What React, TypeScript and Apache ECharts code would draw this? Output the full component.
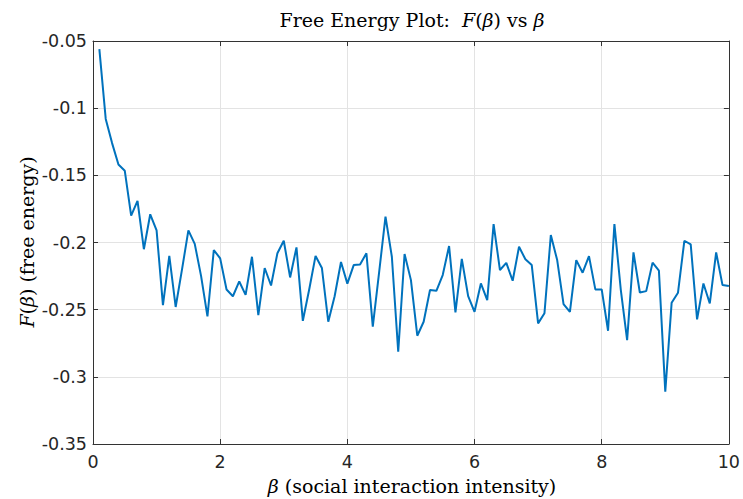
import React, { useEffect, useRef } from "react";
import * as echarts from "echarts";

// beta = 0.1, 0.2, ..., 10.0
const betaValues: number[] = [
  0.1, 0.2, 0.3, 0.4, 0.5, 0.6, 0.7, 0.8, 0.9, 1.0,
  1.1, 1.2, 1.3, 1.4, 1.5, 1.6, 1.7, 1.8, 1.9, 2.0,
  2.1, 2.2, 2.3, 2.4, 2.5, 2.6, 2.7, 2.8, 2.9, 3.0,
  3.1, 3.2, 3.3, 3.4, 3.5, 3.6, 3.7, 3.8, 3.9, 4.0,
  4.1, 4.2, 4.3, 4.4, 4.5, 4.6, 4.7, 4.8, 4.9, 5.0,
  5.1, 5.2, 5.3, 5.4, 5.5, 5.6, 5.7, 5.8, 5.9, 6.0,
  6.1, 6.2, 6.3, 6.4, 6.5, 6.6, 6.7, 6.8, 6.9, 7.0,
  7.1, 7.2, 7.3, 7.4, 7.5, 7.6, 7.7, 7.8, 7.9, 8.0,
  8.1, 8.2, 8.3, 8.4, 8.5, 8.6, 8.7, 8.8, 8.9, 9.0,
  9.1, 9.2, 9.3, 9.4, 9.5, 9.6, 9.7, 9.8, 9.9, 10.0,
];

const freeEnergy: number[] = [
  -0.056, -0.108, -0.126, -0.142, -0.1466, -0.180, -0.169, -0.205, -0.179, -0.191,
  -0.2466, -0.210, -0.248, -0.220, -0.191, -0.201, -0.225, -0.255, -0.2056, -0.2118,
  -0.235, -0.240, -0.229, -0.239, -0.2106, -0.254, -0.219, -0.232, -0.208, -0.1987,
  -0.226, -0.2036, -0.2583, -0.235, -0.210, -0.219, -0.259, -0.240, -0.2145, -0.2306,
  -0.2168, -0.2163, -0.208, -0.2626, -0.222, -0.1808, -0.2106, -0.2813, -0.2086, -0.228,
  -0.2694, -0.259, -0.2354, -0.236, -0.2242, -0.2026, -0.252, -0.2122, -0.2399, -0.2516,
  -0.2305, -0.2429, -0.1863, -0.2205, -0.2152, -0.2285, -0.2032, -0.2125, -0.2168, -0.2602,
  -0.2527, -0.1945, -0.2131, -0.2459, -0.2516, -0.2131, -0.2225, -0.2101, -0.2349, -0.2349,
  -0.2657, -0.1863, -0.235, -0.2727, -0.2074, -0.2372, -0.2362, -0.215, -0.221, -0.3111,
  -0.2448, -0.2374, -0.1987, -0.2014, -0.2572, -0.2305, -0.2454, -0.2074, -0.2317, -0.2324,
];

const xTicks: number[] = [0, 2, 4, 6, 8, 10];
const yTicks: string[] = ["-0.35", "-0.3", "-0.25", "-0.2", "-0.15", "-0.1", "-0.05"];

const AXIS_COLOR = "#333333";
const TEXT_COLOR = "#262626";
const GRID_COLOR = "#e3e3e3";
const LINE_COLOR = "#0072BD";
const SERIF = "'DejaVu Serif', 'Liberation Serif', serif";
const SANS = "'DejaVu Sans', 'Liberation Sans', Arial, sans-serif";

export default function App() {
  const ref = useRef<HTMLDivElement>(null);

  useEffect(() => {
    if (!ref.current) return;
    const chart = echarts.init(ref.current, null, { renderer: "svg" });
    const data = betaValues.map((b, i) => [b, freeEnergy[i]]);
    const yMin = parseFloat(yTicks[0]);
    const yMax = parseFloat(yTicks[yTicks.length - 1]);
    const xMin = xTicks[0];
    const xMax = xTicks[xTicks.length - 1];

    const tickLabelStyle = {
      color: TEXT_COLOR,
      fontFamily: SANS,
      fontSize: 17.5,
    };

    const richSerif = {
      i: { fontFamily: SERIF, fontStyle: "italic", fontSize: 19, color: "#111" },
      r: { fontFamily: SERIF, fontSize: 19, color: "#111" },
    };

    chart.setOption({
      animation: false,
      backgroundColor: "#ffffff",
      grid: { left: 93, top: 41, right: 13, bottom: 55, containLabel: false },
      xAxis: [
        {
          type: "value",
          min: xMin,
          max: xMax,
          interval: 2,
          position: "bottom",
          axisLine: { show: true, onZero: false, lineStyle: { color: AXIS_COLOR, width: 1 } },
          axisTick: { show: true, inside: true, length: 5, lineStyle: { color: AXIS_COLOR } },
          axisLabel: { ...tickLabelStyle, margin: 9 },
          splitLine: { show: true, lineStyle: { color: GRID_COLOR, width: 1 } },
        },
        {
          type: "value",
          min: xMin,
          max: xMax,
          interval: 2,
          position: "top",
          axisLine: { show: true, onZero: false, lineStyle: { color: AXIS_COLOR, width: 1 } },
          axisTick: { show: true, inside: true, length: 5, lineStyle: { color: AXIS_COLOR } },
          axisLabel: { show: false },
          splitLine: { show: false },
        },
      ],
      yAxis: [
        {
          type: "value",
          min: yMin,
          max: yMax,
          interval: 0.05,
          position: "left",
          axisLine: { show: true, onZero: false, lineStyle: { color: AXIS_COLOR, width: 1 } },
          axisTick: { show: true, inside: true, length: 5, lineStyle: { color: AXIS_COLOR } },
          axisLabel: {
            ...tickLabelStyle,
            margin: 6,
            padding: [4, 0, 0, 0],
            formatter: (v: number) => {
              const idx = Math.round((v - yMin) / 0.05);
              return yTicks[idx] ?? "";
            },
          },
          splitLine: { show: true, lineStyle: { color: GRID_COLOR, width: 1 } },
        },
        {
          type: "value",
          min: yMin,
          max: yMax,
          interval: 0.05,
          position: "right",
          axisLine: { show: true, onZero: false, lineStyle: { color: AXIS_COLOR, width: 1 } },
          axisTick: { show: true, inside: true, length: 5, lineStyle: { color: AXIS_COLOR } },
          axisLabel: { show: false },
          splitLine: { show: false },
        },
      ],
      series: [
        {
          type: "line",
          data,
          xAxisIndex: 0,
          yAxisIndex: 0,
          showSymbol: false,
          symbol: "none",
          lineStyle: { color: LINE_COLOR, width: 2 },
          clip: true,
        },
      ],
      graphic: [
        {
          type: "text",
          x: 412,
          y: 20,
          style: {
            text: "{r|Free Energy Plot:  }{i|F}{r|(}{i|β}{r|) vs }{i|β}",
            rich: richSerif,
            align: "center",
            verticalAlign: "middle",
          },
        },
        {
          type: "text",
          x: 412,
          y: 486,
          style: {
            text: "{i|β}{r| (social interaction intensity)}",
            rich: richSerif,
            align: "center",
            verticalAlign: "middle",
          },
        },
        {
          type: "text",
          x: 27,
          y: 242,
          rotation: Math.PI / 2,
          style: {
            text: "{i|F}{r|(}{i|β}{r|) (free energy)}",
            rich: richSerif,
            align: "center",
            verticalAlign: "middle",
          },
        },
      ],
    });

    return () => {
      chart.dispose();
    };
  }, []);

  return (
    <div
      ref={ref}
      style={{ position: "absolute", left: 0, top: 0, width: 743, height: 499 }}
    />
  );
}
